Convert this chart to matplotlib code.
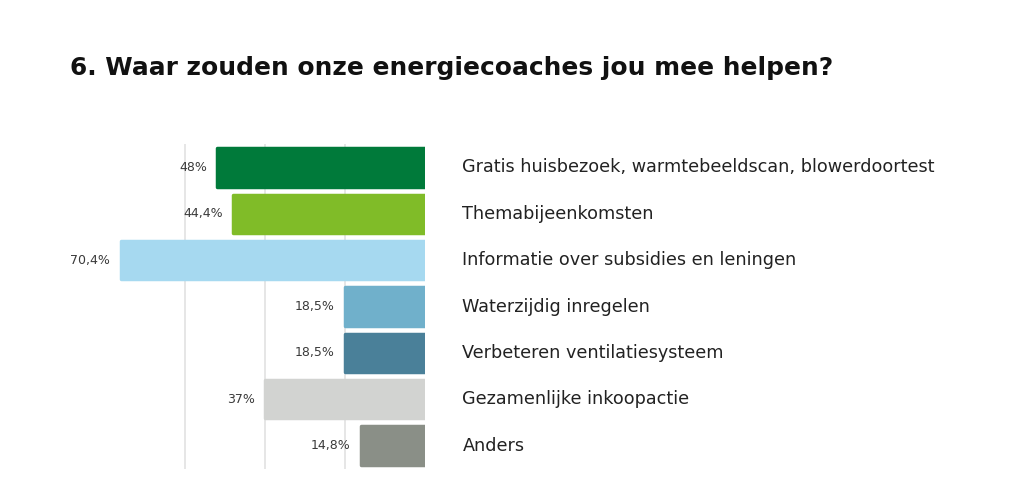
import matplotlib
matplotlib.use("Agg")
import matplotlib.pyplot as plt

title = "6. Waar zouden onze energiecoaches jou mee helpen?"
categories = [
    "Gratis huisbezoek, warmtebeeldscan, blowerdoortest",
    "Themabijeenkomsten",
    "Informatie over subsidies en leningen",
    "Waterzijdig inregelen",
    "Verbeteren ventilatiesysteem",
    "Gezamenlijke inkoopactie",
    "Anders",
]
values = [48.0, 44.4, 70.4, 18.5, 18.5, 37.0, 14.8]
value_labels = ["48%", "44,4%", "70,4%", "18,5%", "18,5%", "37%", "14,8%"]
colors = ["#007a3a", "#80bc28", "#a6d9f0", "#70b0cb", "#4a8099", "#d2d3d1", "#8a8f87"]
gridlines = [18.5, 37.0, 55.5]

W, H = 1024, 497
fig = plt.figure(figsize=(W / 100, H / 100), dpi=100)
fig.patch.set_facecolor("white")

# axes in pixel coords: x from 105 to 425, y from 144.3 to 468.7
ax_l, ax_r = 105, 425
ax_t, ax_b = 144.3, 468.7
ax = fig.add_axes([ax_l / W, 1 - ax_b / H, (ax_r - ax_l) / W, (ax_b - ax_t) / H])
ax.set_xlim(74, 0)
ax.set_ylim(len(categories) - 0.5, -0.5)
ax.axis("off")

for g in gridlines:
    ax.axvline(g, color="#e2e2e2", lw=1.2, zorder=0)

ypos = list(range(len(categories)))
bars = ax.barh(ypos, values, height=0.83, color=colors, edgecolor=colors,
               linewidth=2.5, zorder=2)
for b in bars:
    b.set_joinstyle("round")

for y, v, lab in zip(ypos, values, value_labels):
    ax.annotate(lab, xy=(v, y), xytext=(-7.5, 0), textcoords="offset points",
                ha="right", va="center", fontsize=9, color="#3a3a3a",
                family="DejaVu Sans")
    ax.annotate(categories[y], xy=(0, y), xytext=(27, 0), textcoords="offset points",
                ha="left", va="center", fontsize=12.7, color="#222222",
                family="DejaVu Sans", annotation_clip=False)

fig.text(70 / W, 1 - 68 / H, title, ha="left", va="center", fontsize=17.9,
         fontweight="bold", color="#111111", family="DejaVu Sans")

fig.savefig("out.png", dpi=100, facecolor="white")
